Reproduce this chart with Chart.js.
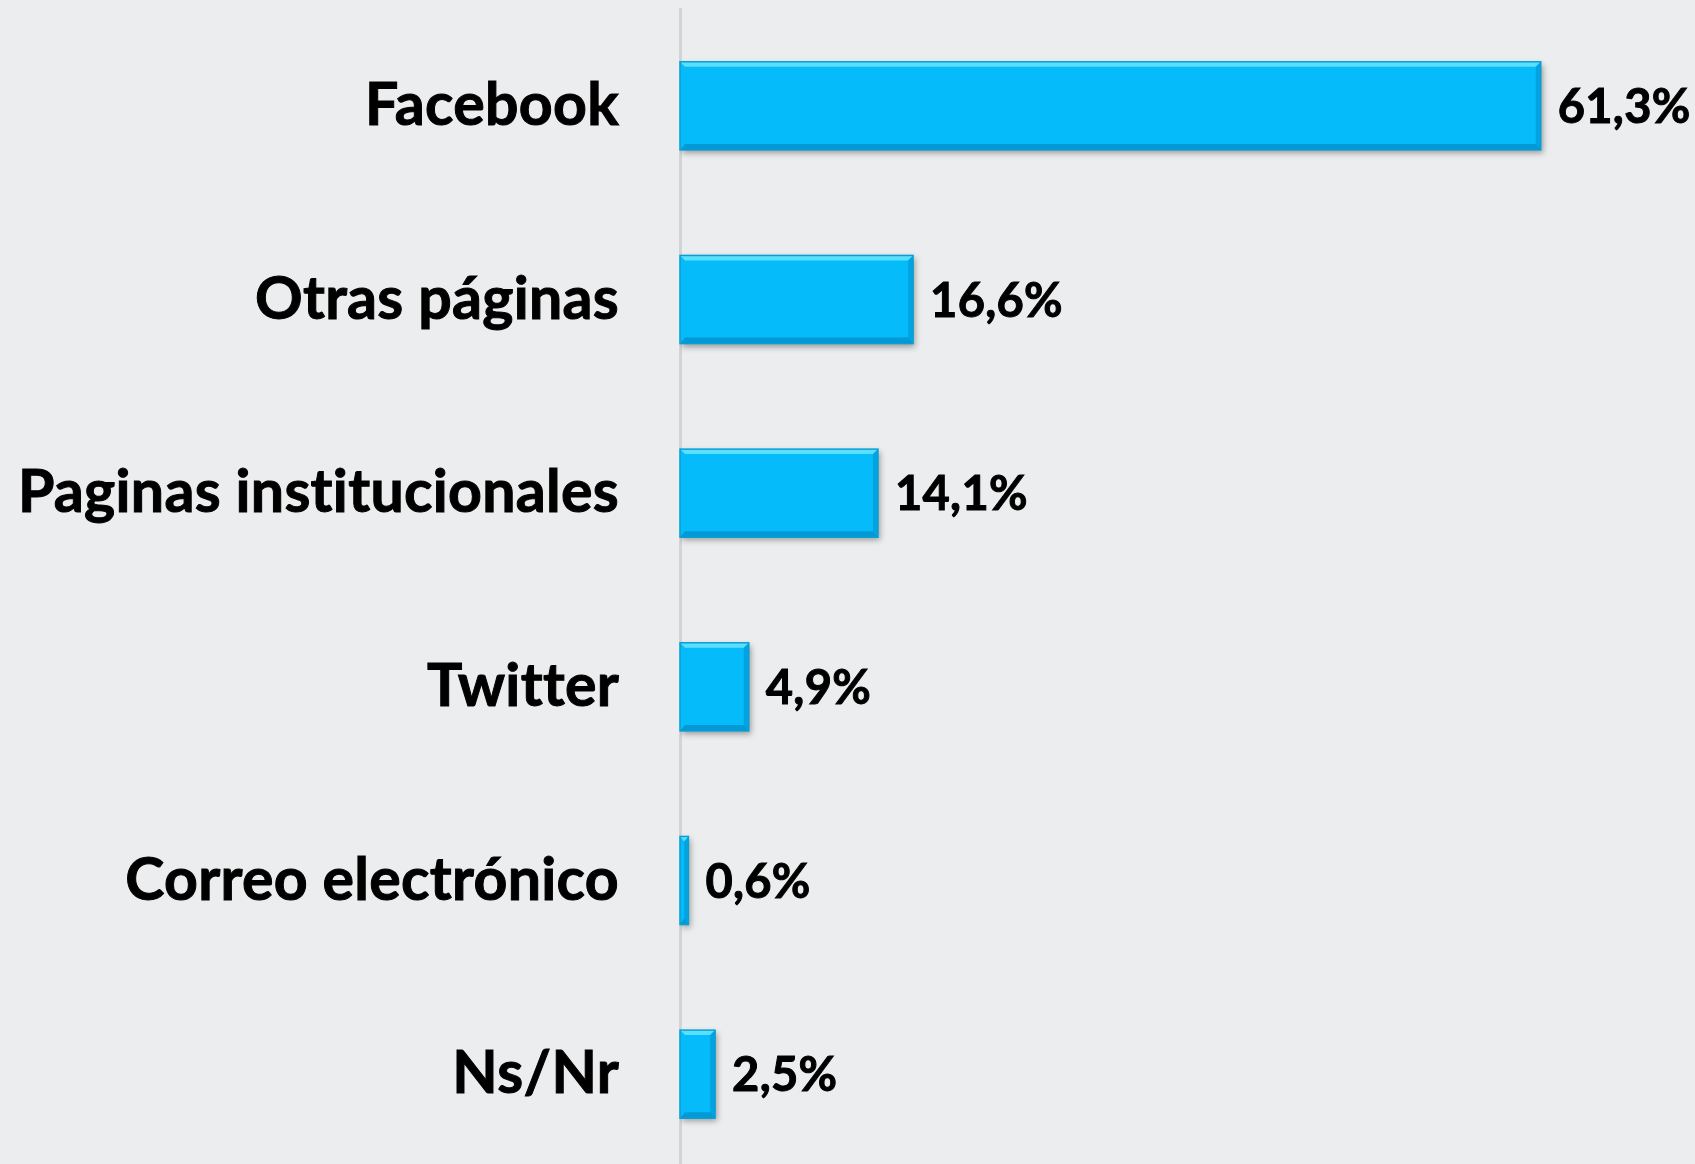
<!DOCTYPE html>
<html>
<head>
<meta charset="utf-8">
<script src="https://cdn.jsdelivr.net/npm/chart.js@4.4.0/dist/chart.umd.min.js"></script>
<style>
    html, body {
        margin: 0;
        padding: 0;
        background: #ecedef;
        overflow: hidden;
    }
    #wrap {
        width: 1695px;
        height: 1175px;
    }
</style>
</head>
<body>
<div id="wrap"><canvas id="chart"></canvas></div>
<script>
// Data
const categories = ['Facebook', 'Otras páginas', 'Paginas institucionales', 'Twitter', 'Correo electrónico', 'Ns/Nr'];
const percentValues = [61.3, 16.6, 14.1, 4.9, 0.6, 2.5];
const axisMax = 72;

const barColor = '#06bbf9';
const fontFamily = 'Lato, "Open Sans", sans-serif';

// Value labels to the right of each bar
const valueLabels = {
    id: 'valueLabels',
    afterDatasetsDraw(chart) {
        const ctx = chart.ctx;
        const meta = chart.getDatasetMeta(0);
        ctx.save();
        ctx.font = 'bold 47px ' + fontFamily;
        ctx.fillStyle = '#000';
        ctx.strokeStyle = '#000';
        ctx.lineWidth = 1;
        ctx.textAlign = 'left';
        ctx.textBaseline = 'middle';
        meta.data.forEach(function (bar, i) {
            const text = percentValues[i].toFixed(1).replace('.', ',') + '%';
            ctx.strokeText(text, bar.x + 17, bar.y + 2);
            ctx.fillText(text, bar.x + 17, bar.y + 2);
        });
        ctx.restore();
    }
};

// No ligatures (Twitter, institucionales)
const spacing = {
    id: 'spacing',
    beforeDraw(chart) {
        chart.ctx.letterSpacing = '0.3px';
    }
};

// Soft shadow plus bevel edges on the bars
const bevelBars = {
    id: 'bevelBars',
    beforeDatasetsDraw(chart) {
        const ctx = chart.ctx;
        ctx.save();
        ctx.shadowColor = 'rgba(0,0,0,0.35)';
        ctx.shadowBlur = 6;
        ctx.shadowOffsetX = 2;
        ctx.shadowOffsetY = 3;
    },
    afterDatasetsDraw(chart) {
        const ctx = chart.ctx;
        ctx.restore();
        const meta = chart.getDatasetMeta(0);
        ctx.save();
        meta.data.forEach(function (bar) {
            const left = bar.base;
            const right = bar.x;
            const top = bar.y - bar.height / 2;
            const bottom = bar.y + bar.height / 2;
            const w = right - left;
            const e = Math.min(5, w / 2);
            // top highlight
            ctx.fillStyle = 'rgba(120,235,255,0.75)';
            ctx.beginPath();
            ctx.moveTo(left, top);
            ctx.lineTo(right, top);
            ctx.lineTo(right - e, top + 5);
            ctx.lineTo(left + e, top + 5);
            ctx.closePath();
            ctx.fill();
            // bottom shade
            ctx.fillStyle = 'rgba(0,110,170,0.45)';
            ctx.beginPath();
            ctx.moveTo(left, bottom);
            ctx.lineTo(right, bottom);
            ctx.lineTo(right - e, bottom - 6);
            ctx.lineTo(left + e, bottom - 6);
            ctx.closePath();
            ctx.fill();
            // right shade
            ctx.fillStyle = 'rgba(0,120,180,0.35)';
            ctx.beginPath();
            ctx.moveTo(right, top);
            ctx.lineTo(right, bottom);
            ctx.lineTo(right - e, bottom - 6);
            ctx.lineTo(right - e, top + 5);
            ctx.closePath();
            ctx.fill();
            ctx.strokeStyle = '#0a9fd2';
            ctx.lineWidth = 1.5;
            ctx.strokeRect(left, top, w, bottom - top);
        });
        ctx.restore();
    }
};

document.addEventListener('DOMContentLoaded', function () {
    const ctx = document.getElementById('chart').getContext('2d');
    new Chart(ctx, {
        type: 'bar',
        data: {
            labels: categories,
            datasets: [{
                data: percentValues,
                backgroundColor: barColor,
                borderWidth: 0,
                barPercentage: 0.455,
                categoryPercentage: 1
            }]
        },
        options: {
            indexAxis: 'y',
            responsive: true,
            maintainAspectRatio: false,
            animation: false,
            layout: {
                padding: { top: 9, right: 4, bottom: 4, left: 0 }
            },
            plugins: {
                legend: { display: false },
                tooltip: { enabled: false }
            },
            scales: {
                x: {
                    display: false,
                    min: 0,
                    max: axisMax
                },
                y: {
                    afterFit: function (scale) {
                        scale.width = 680;
                        scale.paddingTop = 0;
                        scale.paddingBottom = 0;
                    },
                    grid: {
                        display: false,
                        drawTicks: false
                    },
                    border: {
                        display: true,
                        color: '#d4d4d6',
                        width: 3
                    },
                    ticks: {
                        padding: 61,
                        color: '#000',
                        textStrokeColor: '#000',
                        textStrokeWidth: 1,
                        font: { family: fontFamily, size: 59, weight: 'bold' }
                    }
                }
            }
        },
        plugins: [spacing, bevelBars, valueLabels]
    });
});
</script>
</body>
</html>
